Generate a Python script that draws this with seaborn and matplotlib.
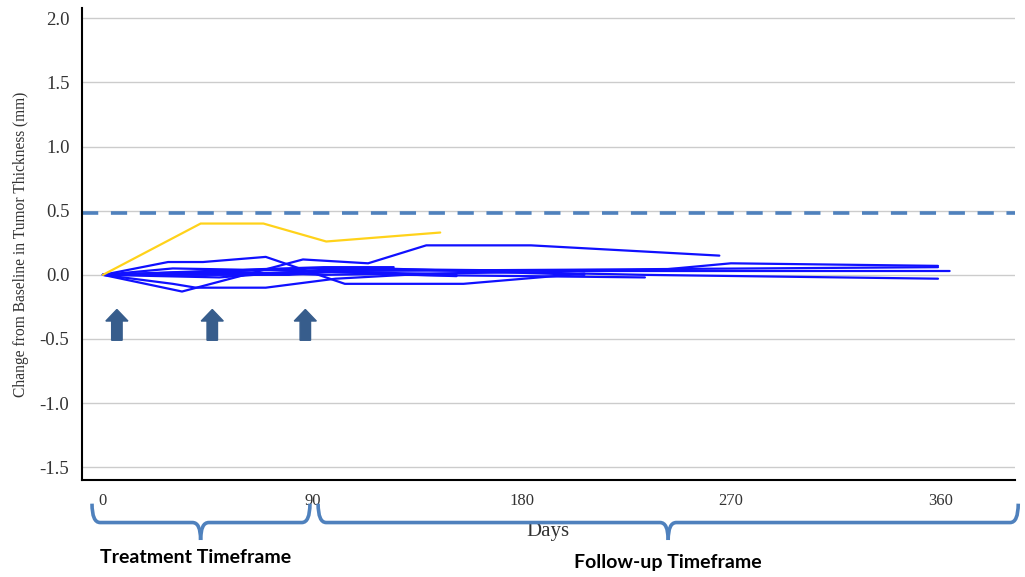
import numpy as np
import pandas as pd
import matplotlib.pyplot as plt
import seaborn as sns
from matplotlib.path import Path
from matplotlib.patches import PathPatch
import matplotlib.transforms as mtransforms

# Per-patient change from baseline (days, mm)
yellow_days = [0, 42, 69, 96, 145]
yellow_vals = [0, 0.40, 0.40, 0.26, 0.33]

blue_days = [
    [0, 28, 43, 70, 104, 155, 207],
    [0, 34, 86, 114, 139, 184, 265],
    [0, 30, 40, 70, 100, 130, 233],
    [0, 30, 60, 95, 125],
    [0, 40, 75, 152],
    [0, 45, 90, 200, 240, 270, 359],
    [0, 60, 100, 200, 359],
    [0, 50, 95, 210, 364],
    [0, 55, 95, 180, 233, 359],
    [0, 70, 100, 152],
    [0, 80, 120, 207],
]
blue_vals = [
    [0, 0.10, 0.10, 0.14, -0.07, -0.07, 0.01],
    [0, -0.13, 0.12, 0.09, 0.23, 0.23, 0.15],
    [0, -0.07, -0.10, -0.10, -0.03, 0.0, -0.02],
    [0, 0.05, 0.04, 0.06, 0.06],
    [0, 0.02, 0.04, 0.0],
    [0, 0.03, 0.05, 0.03, 0.04, 0.09, 0.07],
    [0, 0.01, 0.03, 0.04, 0.06],
    [0, -0.02, 0.04, 0.03, 0.03],
    [0, 0.02, 0.0, 0.02, 0.0, -0.03],
    [0, 0.04, 0.02, -0.01],
    [0, 0.0, 0.05, 0.0],
]

threshold = 0.48
dose_days = [6, 47, 87]
x_ticks = [0, 90, 180, 270, 360]
y_ticks = [-1.5, -1.0, -0.5, 0.0, 0.5, 1.0, 1.5, 2.0]

rows = []
for i, (d, v) in enumerate(zip(blue_days, blue_vals)):
    for dd, vv in zip(d, v):
        rows.append({'pid': f'b{i}', 'day': dd, 'change': vv, 'grp': 'blue'})
for dd, vv in zip(yellow_days, yellow_vals):
    rows.append({'pid': 'y0', 'day': dd, 'change': vv, 'grp': 'yellow'})
df = pd.DataFrame(rows)

sns.set_style('white')
fig = plt.figure(figsize=(10.25, 5.77), dpi=100)
ax = fig.add_axes([0.080, 0.168, 0.910, 0.818])

ax.set_xlim(-9, 392)
ax.set_ylim(-1.6, 2.08)
ax.set_yticks(y_ticks)
ax.set_yticklabels([f'{t:.1f}' for t in y_ticks], family='Liberation Serif', fontsize=13.5, color='#333333')
ax.set_xticks(x_ticks)
ax.set_xticklabels([str(t) for t in x_ticks], family='Liberation Serif', fontsize=12, color='#333333')
ax.tick_params(axis='y', length=5, color='#bbbbbb', pad=4)
ax.tick_params(axis='x', length=0, pad=9)
ax.grid(axis='y', color='#cccccc', linewidth=1)
ax.set_axisbelow(True)
for s in ['top', 'right']:
    ax.spines[s].set_visible(False)
for s in ['left', 'bottom']:
    ax.spines[s].set_color('black')
    ax.spines[s].set_linewidth(1.5)

sns.lineplot(data=df[df.grp == 'blue'], x='day', y='change', units='pid', estimator=None,
             color='#1010ff', linewidth=1.6, ax=ax, legend=False)
sns.lineplot(data=df[df.grp == 'yellow'], x='day', y='change', units='pid', estimator=None,
             color='#ffd21a', linewidth=1.6, ax=ax, legend=False)

ax.axhline(threshold, color='#4f81bd', linewidth=2.6, dashes=(4.5, 3.5))

for d in dose_days:
    ax.arrow(d, -0.51, 0, 0.15, width=4.5, head_width=9.5, head_length=0.09,
             length_includes_head=False, color='#375d8c', zorder=5)

ax.set_xlabel('Days', family='Liberation Serif', fontsize=15, color='#333333', labelpad=10)
ax.set_ylabel('Change from Baseline in Tumor Thickness (mm)', family='Liberation Serif',
              fontsize=11.2, color='#333333', labelpad=8)

# curly braces under the x axis
trans = mtransforms.blended_transform_factory(ax.transData, ax.transAxes)
def brace(x0, x1, xc, ytop, ymid, ytip, r):
    codes = [Path.MOVETO, Path.CURVE3, Path.CURVE3, Path.LINETO, Path.CURVE3, Path.CURVE3]
    left = [(x0, ytop), (x0, ymid), (x0 + r, ymid), (xc - r, ymid), (xc, ymid), (xc, ytip)]
    right = [(x1, ytop), (x1, ymid), (x1 - r, ymid), (xc + r, ymid), (xc, ymid), (xc, ytip)]
    for vv in (left, right):
        p = PathPatch(Path(vv, codes), transform=trans, fill=False,
                      edgecolor='#4f81bd', linewidth=2.6, clip_on=False)
        ax.add_patch(p)

brace(-4.7, 89, 42, -0.050, -0.090, -0.127, 3.5)
brace(92.5, 393.5, 243, -0.050, -0.090, -0.127, 3.5)

ax.text(40, -0.165, 'Treatment Timeframe', transform=trans, ha='center', va='center',
        family='Lato', fontweight='bold', fontsize=14, color='black')
ax.text(243, -0.175, 'Follow-up Timeframe', transform=trans, ha='center', va='center',
        family='Lato', fontweight='bold', fontsize=14, color='black')

fig.savefig('out.png', dpi=100)
